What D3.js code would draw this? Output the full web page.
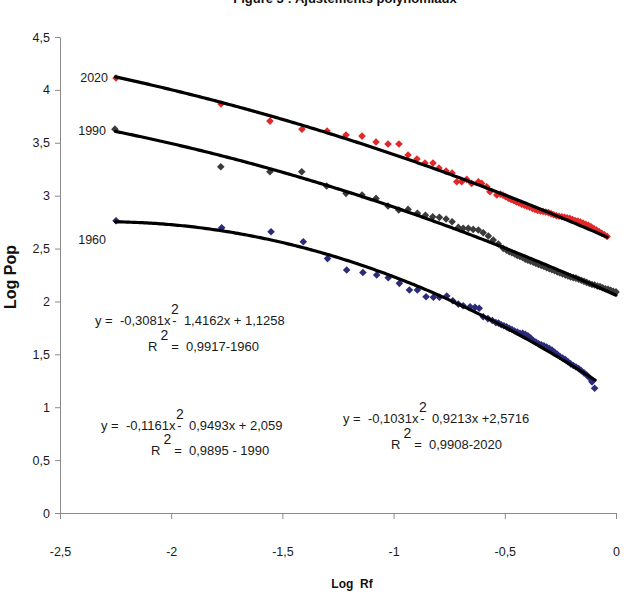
<!DOCTYPE html>
<html><head><meta charset="utf-8">
<script src="https://cdn.jsdelivr.net/npm/d3@7"></script>
<style>
html,body{margin:0;padding:0;background:#fff;}
svg{display:block;font-family:"Liberation Sans",Arial,sans-serif;}
</style></head>
<body>
<svg id="chart" width="630" height="613"></svg>
<script>
// ---------- data ----------
const title = "Figure 3 : Ajustements polynomiaux";
const xAxisTitle = "Log  Rf";
const yAxisTitle = "Log Pop";
const xTicks = [-2.5, -2, -1.5, -1, -0.5, 0];
const xTickLabels = ["-2,5", "-2", "-1,5", "-1", "-0,5", "0"];
const yTicks = [0, 0.5, 1, 1.5, 2, 2.5, 3, 3.5, 4, 4.5];
const yTickLabels = ["0", "0,5", "1", "1,5", "2", "2,5", "3", "3,5", "4", "4,5"];

const x2020 = [-2.248,-1.776,-1.556,-1.412,-1.299,-1.214,-1.142,-1.079,-1.025,-0.976,-0.935,-0.895,-0.859,-0.823,-0.796,-0.764,-0.737,-0.716,-0.694,-0.671,-0.649,-0.619,-0.604,-0.581,-0.567,-0.536,
 -0.52,-0.508,-0.496,-0.484,-0.472,-0.46,-0.448,-0.436,-0.424,-0.412,-0.40,-0.388,-0.376,-0.364,-0.352,-0.34,-0.328,-0.316,-0.304,-0.292,-0.28,-0.268,-0.256,-0.244,-0.232,-0.22,-0.208,-0.196,-0.184,-0.172,-0.16,-0.148,-0.136,-0.124,-0.112,-0.10,-0.088,-0.076,-0.064,-0.052,-0.04];
const y2020 = [4.112,3.866,3.705,3.629,3.611,3.573,3.563,3.507,3.488,3.488,3.384,3.346,3.308,3.308,3.261,3.233,3.214,3.131,3.131,3.154,3.116,3.131,3.116,3.084,3.037,3.006,
 3.015,3.005,2.99,2.975,2.965,2.955,2.94,2.93,2.92,2.91,2.9,2.89,2.88,2.87,2.86,2.855,2.85,2.845,2.84,2.83,2.82,2.81,2.805,2.80,2.795,2.79,2.785,2.775,2.765,2.76,2.75,2.74,2.73,2.72,2.705,2.69,2.675,2.66,2.645,2.63,2.615];

const x1990 = [-2.253,-1.777,-1.556,-1.413,-1.301,-1.214,-1.142,-1.079,-1.025,-0.977,-0.935,-0.893,-0.857,-0.824,-0.794,-0.764,-0.737,-0.709,-0.687,-0.664,-0.642,-0.619,-0.597,-0.574,-0.552,-0.529,-0.507,
 -0.492,-0.48,-0.468,-0.456,-0.444,-0.432,-0.42,-0.408,-0.396,-0.384,-0.372,-0.36,-0.348,-0.336,-0.324,-0.312,-0.30,-0.288,-0.276,-0.264,-0.252,-0.24,-0.228,-0.216,-0.204,-0.192,-0.18,-0.168,-0.156,-0.144,-0.132,-0.12,-0.108,-0.096,-0.084,-0.072,-0.06,-0.048,-0.036,-0.024,-0.012,0];
const y1990 = [3.629,3.273,3.226,3.226,3.091,3.022,3.006,2.974,2.902,2.864,2.870,2.833,2.814,2.801,2.795,2.779,2.754,2.700,2.691,2.691,2.681,2.675,2.649,2.618,2.580,2.543,2.502,
 2.485,2.47,2.46,2.45,2.435,2.425,2.415,2.40,2.39,2.38,2.37,2.36,2.35,2.34,2.33,2.32,2.31,2.30,2.29,2.28,2.27,2.26,2.25,2.24,2.232,2.225,2.22,2.21,2.20,2.19,2.18,2.17,2.16,2.155,2.145,2.14,2.13,2.12,2.115,2.105,2.095,2.09];

const x1960 = [-2.248,-1.773,-1.551,-1.406,-1.297,-1.211,-1.138,-1.076,-1.024,-0.974,-0.929,-0.893,-0.854,-0.821,-0.794,-0.761,-0.734,-0.709,-0.687,-0.656,-0.634,-0.615,-0.597,-0.576,-0.556,
 -0.54,-0.528,-0.516,-0.504,-0.492,-0.48,-0.468,-0.456,-0.444,-0.432,-0.42,-0.408,-0.396,-0.384,-0.372,-0.36,-0.348,-0.336,-0.324,-0.312,-0.30,-0.288,-0.276,-0.264,-0.252,-0.24,-0.228,-0.216,-0.204,-0.192,-0.18,-0.168,-0.156,-0.144,-0.132,-0.12,-0.108,-0.096];
const y1960 = [2.763,2.697,2.659,2.564,2.405,2.297,2.273,2.250,2.224,2.171,2.108,2.108,2.044,2.039,2.039,2.051,2.007,1.975,1.959,1.950,1.944,1.935,1.855,1.838,1.82,
 1.80,1.795,1.78,1.77,1.76,1.745,1.735,1.72,1.71,1.70,1.70,1.69,1.675,1.655,1.63,1.615,1.60,1.59,1.58,1.57,1.555,1.54,1.52,1.50,1.48,1.465,1.45,1.43,1.41,1.395,1.38,1.365,1.345,1.325,1.305,1.28,1.24,1.18];

// polynomial trendline coefficients [a, b, c] for y = a x^2 + b x + c, and x-range
const fit2020 = [-0.1031, -0.9213, 2.5716];
const fit1990 = [-0.1161, -0.9493, 2.059];
const fit1960 = [-0.3081, -1.4162, 1.1258];
const fitRange2020 = [-2.25, -0.04];
const fitRange1990 = [-2.25, 0];
const fitRange1960 = [-2.25, -0.094];

const seriesNames = ["2020", "1990", "1960"];
const seriesColors = ["#E3282A", "#3B3B3B", "#2C2B7A"];

// ---------- drawing ----------
const svg = d3.select("#chart");
const x = d3.scaleLinear().domain([-2.5, 0]).range([60, 616]);
const y = d3.scaleLinear().domain([0, 4.5]).range([513, 37]);

svg.append("text").attr("x", 345).attr("y", 3).attr("text-anchor", "middle")
  .attr("font-size", 13).attr("font-weight", "bold").attr("fill", "#111").text(title);

// axes
const axisColor = "#8a8a8a";
const gy = svg.append("g").attr("transform", "translate(60,0)")
  .call(d3.axisLeft(y).tickValues(yTicks).tickFormat((d, i) => yTickLabels[i]).tickSize(5).tickSizeOuter(0).tickPadding(5));
const gx = svg.append("g").attr("transform", "translate(0,513)")
  .call(d3.axisBottom(x).tickValues(xTicks).tickFormat((d, i) => xTickLabels[i]).tickSize(6).tickSizeOuter(0).tickPadding(28));
[gx, gy].forEach(g => {
  g.selectAll("path,line").attr("stroke", axisColor).attr("stroke-width", 1);
  g.selectAll("text").attr("font-size", 12.5).attr("fill", "#1a1a1a").attr("font-family", '"Liberation Sans",Arial,sans-serif');
});

svg.append("text").attr("x", 352).attr("y", 588).attr("text-anchor", "middle")
  .attr("font-size", 12).attr("font-weight", "bold").attr("fill", "#111").attr("xml:space", "preserve").text(xAxisTitle);
svg.append("text").attr("transform", "translate(16,277) rotate(-90)").attr("text-anchor", "middle")
  .attr("font-size", 16).attr("font-weight", "bold").attr("fill", "#111").text(yAxisTitle);

// points
const diamond = "M0,-3.8L3.8,0L0,3.8L-3.8,0Z";
const series = [[x2020, y2020], [x1990, y1990], [x1960, y1960]];
series.forEach(([xs, ys], si) => {
  svg.append("g").selectAll("path").data(xs.map((v, i) => [v, ys[i]])).join("path")
    .attr("d", diamond).attr("fill", seriesColors[si])
    .attr("transform", d => `translate(${x(d[0])},${y(d[1])})`);
});

// trendlines
const fits = [[fit2020, fitRange2020], [fit1990, fitRange1990], [fit1960, fitRange1960]];
const line = d3.line().x(d => x(d[0])).y(d => y(d[1])).curve(d3.curveLinear);
fits.forEach(([c, r]) => {
  const pts = d3.range(r[0], r[1] + 1e-9, 0.01).concat([r[1]]).map(v => [v, c[0] * v * v + c[1] * v + c[2]]);
  svg.append("path").datum(pts).attr("d", line).attr("fill", "none").attr("stroke", "#000").attr("stroke-width", 3.2).attr("stroke-linecap", "round");
});

// series labels
const labelPos = [[108, 82], [106, 135], [106, 244]];
seriesNames.forEach((n, i) => {
  svg.append("text").attr("x", labelPos[i][0]).attr("y", labelPos[i][1]).attr("text-anchor", "end")
    .attr("font-size", 12.5).attr("fill", "#1a1a1a").text(n);
});

// equations
function equation(xp, yp, a, b) {
  const t = svg.append("text").attr("x", xp).attr("y", yp).attr("font-size", 13).attr("fill", "#1a1a1a").attr("xml:space", "preserve");
  t.append("tspan").text(a);
  t.append("tspan").attr("dy", -11).attr("dx", 0.5).attr("font-size", 14).text("2");
  t.append("tspan").attr("dy", 11).attr("dx", -6.5).text(b);
}
function r2(xp, yp, b) {
  const t = svg.append("text").attr("x", xp).attr("y", yp).attr("font-size", 13).attr("fill", "#1a1a1a").attr("xml:space", "preserve");
  t.append("tspan").text("R");
  t.append("tspan").attr("dy", -11).attr("dx", 3).attr("font-size", 14).text("2");
  t.append("tspan").attr("dy", 11).attr("dx", 3).text(b);
}
equation(95, 325, "y =  -0,3081x", "-  1,4162x + 1,1258");
r2(148, 351, "=  0,9917-1960");
equation(101, 430, "y =  -0,1161x", "-  0,9493x + 2,059");
r2(151, 455, "=  0,9895 - 1990");
equation(343, 423, "y =  -0,1031x", "-  0,9213x +2,5716");
r2(391, 449, "=  0,9908-2020");
</script>
</body></html>
